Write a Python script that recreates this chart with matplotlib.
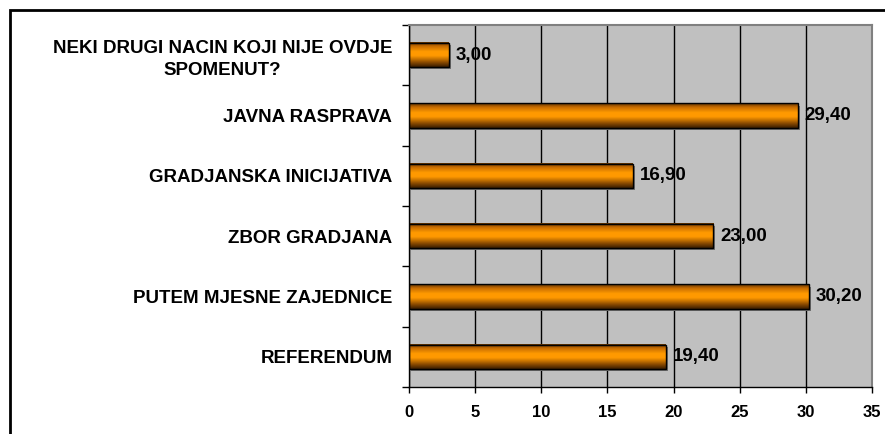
import numpy as np
import matplotlib
matplotlib.use("Agg")
from matplotlib import pyplot as plt
from matplotlib.colors import LinearSegmentedColormap
from matplotlib.patches import Rectangle
import matplotlib.patheffects as pe

# DATA
categories = ["REFERENDUM", "PUTEM MJESNE ZAJEDNICE", "ZBOR GRADJANA",
              "GRADJANSKA INICIJATIVA", "JAVNA RASPRAVA",
              "NEKI DRUGI NACIN KOJI NIJE OVDJE\nSPOMENUT?"]
values = [19.40, 30.20, 23.00, 16.90, 29.40, 3.00]
x_ticks = [0, 5, 10, 15, 20, 25, 30, 35]

plt.rcParams['font.family'] = ['Liberation Sans', 'DejaVu Sans']
plt.rcParams['font.weight'] = 'bold'
FS = 13.5

fig = plt.figure(figsize=(8.85, 4.34), dpi=100)
ax = fig.add_axes([409/885, 1-387/434, (872-409)/885, (387-25)/434])
ax.set_facecolor('#C0C0C0')

# outer frame (only left + top visible in the original)
fig.patches.append(Rectangle((10/885, -0.2), 1.2, 1.2 - 10/434, transform=fig.transFigure,
                             fill=False, edgecolor='black', lw=2, clip_on=True))

# orange cylinder-like gradient
cmap = LinearSegmentedColormap.from_list('bar', [
    (0.0, '#3a1e00'), (0.18, '#8a4a00'), (0.45, '#ff9900'),
    (0.62, '#ff9a00'), (0.85, '#c46a00'), (1.0, '#5a3000')])
grad = np.linspace(0, 1, 64).reshape(-1, 1)

y = np.arange(len(categories))
h = 0.4

# shadow
sh = ax.barh(y, values, height=h, facecolor='none', edgecolor='none', zorder=2)
for b in sh:
    b.set_path_effects([pe.SimplePatchShadow(offset=(1.5, -1.5), shadow_rgbFace='#707070', alpha=1)])

for yi, v in zip(y, values):
    ax.imshow(grad, extent=[0, v, yi + h/2, yi - h/2], aspect='auto', cmap=cmap,
              zorder=2.5, interpolation='bilinear')

ax.barh(y, values, height=h, facecolor='none', edgecolor='black', lw=1, zorder=3)

for yi, v in zip(y, values):
    ax.annotate(f"{v:.2f}".replace('.', ','), (v, yi), xytext=(5, 0),
                textcoords='offset points', va='center', ha='left',
                fontsize=FS, fontweight='bold', zorder=4)

ax.set_xlim(0, 35)
ax.set_ylim(-0.5, len(categories) - 0.5)
ax.set_xticks(x_ticks)
ax.set_xticklabels([str(t) for t in x_ticks], fontsize=12, fontweight='bold')
ax.tick_params(axis='x', length=4, width=1, pad=9, color='black')

ax.set_yticks(y)
ax.set_yticklabels(categories, fontsize=FS, fontweight='bold', multialignment='center',
                   linespacing=1.35)
ax.tick_params(axis='y', which='major', length=0, pad=12)
ax.set_yticks(np.arange(len(categories) + 1) - 0.5, minor=True)
ax.tick_params(axis='y', which='minor', length=5, width=1, color='black')

ax.grid(axis='x', color='black', lw=1, zorder=1)
ax.set_axisbelow(True)

for s in ['top', 'right']:
    ax.spines[s].set_color('#808080')
    ax.spines[s].set_linewidth(1.5)
for s in ['left', 'bottom']:
    ax.spines[s].set_color('black')
    ax.spines[s].set_linewidth(1)

fig.savefig('out.png', dpi=100)
